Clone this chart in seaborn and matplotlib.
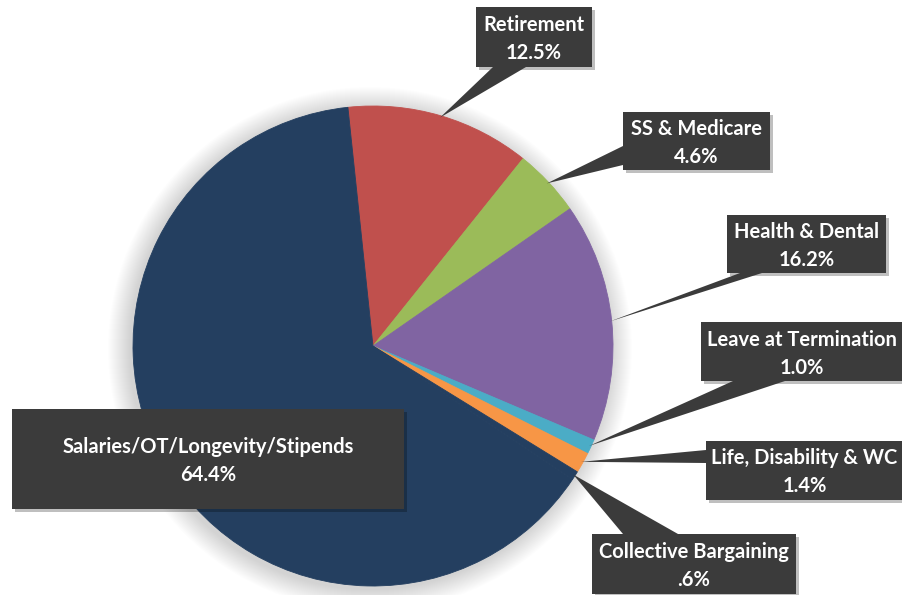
import numpy as np
import matplotlib
matplotlib.use("Agg")
import matplotlib.pyplot as plt
from matplotlib.patches import Rectangle, Polygon, Circle
import seaborn as sns

# Personnel cost breakdown (percent of total)
categories = ["Retirement", "SS & Medicare", "Health & Dental", "Leave at Termination",
              "Life, Disability & WC", "Collective Bargaining", "Salaries/OT/Longevity/Stipends"]
shares = [12.5, 4.6, 16.2, 1.0, 1.4, 0.6, 64.4]
colors = ["#C0504D", "#9BBB59", "#8064A2", "#4BACC6", "#F79646", "#243F60", "#243F60"]

sns.set_theme(style="white")
plt.rcParams["font.family"] = ["Lato", "DejaVu Sans"]

W, H = 903, 595
fig = plt.figure(figsize=(W / 100, H / 100), dpi=100)
ax = fig.add_axes([0, 0, 1, 1])

cx, cy, R = 373, H - 346, 240

# soft glow around the pie
for k in range(22, 0, -1):
    ax.add_patch(Circle((cx - 3, cy - 3), R + k, color="#000000", alpha=0.008, lw=0, zorder=1))

wedges, _ = ax.pie(shares, colors=colors, startangle=96, counterclock=False,
                   center=(cx, cy), radius=R, frame=True)
for w, c in zip(wedges, colors):
    w.set_edgecolor(c)
    w.set_linewidth(0.6)
    w.set_zorder(2)
ax.set_xlim(0, W)
ax.set_ylim(0, H)
ax.set_aspect("equal")
ax.axis("off")

# callout boxes: (x0, y0, x1, y1) measured from the top-left, plus pointer base points
boxes = {
    "Retirement": ((476, 7, 592, 67), [(493, 67), (526, 67)]),
    "SS & Medicare": ((623, 112, 770, 170), [(623, 146), (623, 165)]),
    "Health & Dental": ((727, 215, 886, 273), [(740, 273), (762, 273)]),
    "Leave at Termination": ((701, 322, 903, 381), [(733, 381), (785, 381)]),
    "Life, Disability & WC": ((706, 441, 903, 500), [(706, 450), (706, 463)]),
    "Collective Bargaining": ((592, 534, 796, 594), [(623, 534), (678, 534)]),
    "Salaries/OT/Longevity/Stipends": ((12, 409, 404, 509), None),
}

box_color = "#3B3B3B"
total = sum(shares)
angle = 96.0
for name, val in zip(categories, shares):
    span = val / total * 360
    mid = np.deg2rad(angle - span / 2)
    angle -= span
    (x0, y0, x1, y1), base = boxes[name]
    # drop shadow
    ax.add_patch(Rectangle((x0 + 3, H - y1 - 3), x1 - x0, y1 - y0, color="#000000",
                           alpha=0.25, lw=0, zorder=3))
    if base is not None:
        tip = (cx + (R - 2) * np.cos(mid), cy + (R - 2) * np.sin(mid))
        pts = [(base[0][0], H - base[0][1]), tip, (base[1][0], H - base[1][1])]
        ax.add_patch(Polygon(pts, closed=True, color=box_color, lw=0, zorder=4))
    ax.add_patch(Rectangle((x0, H - y1), x1 - x0, y1 - y0, color=box_color, lw=0, zorder=5))
    pct = f"{val:.1f}%"
    if pct.startswith("0"):
        pct = pct[1:]
    ax.text((x0 + x1) / 2, H - (y0 + y1) / 2 - 2, f"{name}\n{pct}", ha="center", va="center",
            color="white", fontsize=14.5, fontweight="bold", linespacing=1.5, zorder=6)

fig.savefig("out.png", dpi=100)
